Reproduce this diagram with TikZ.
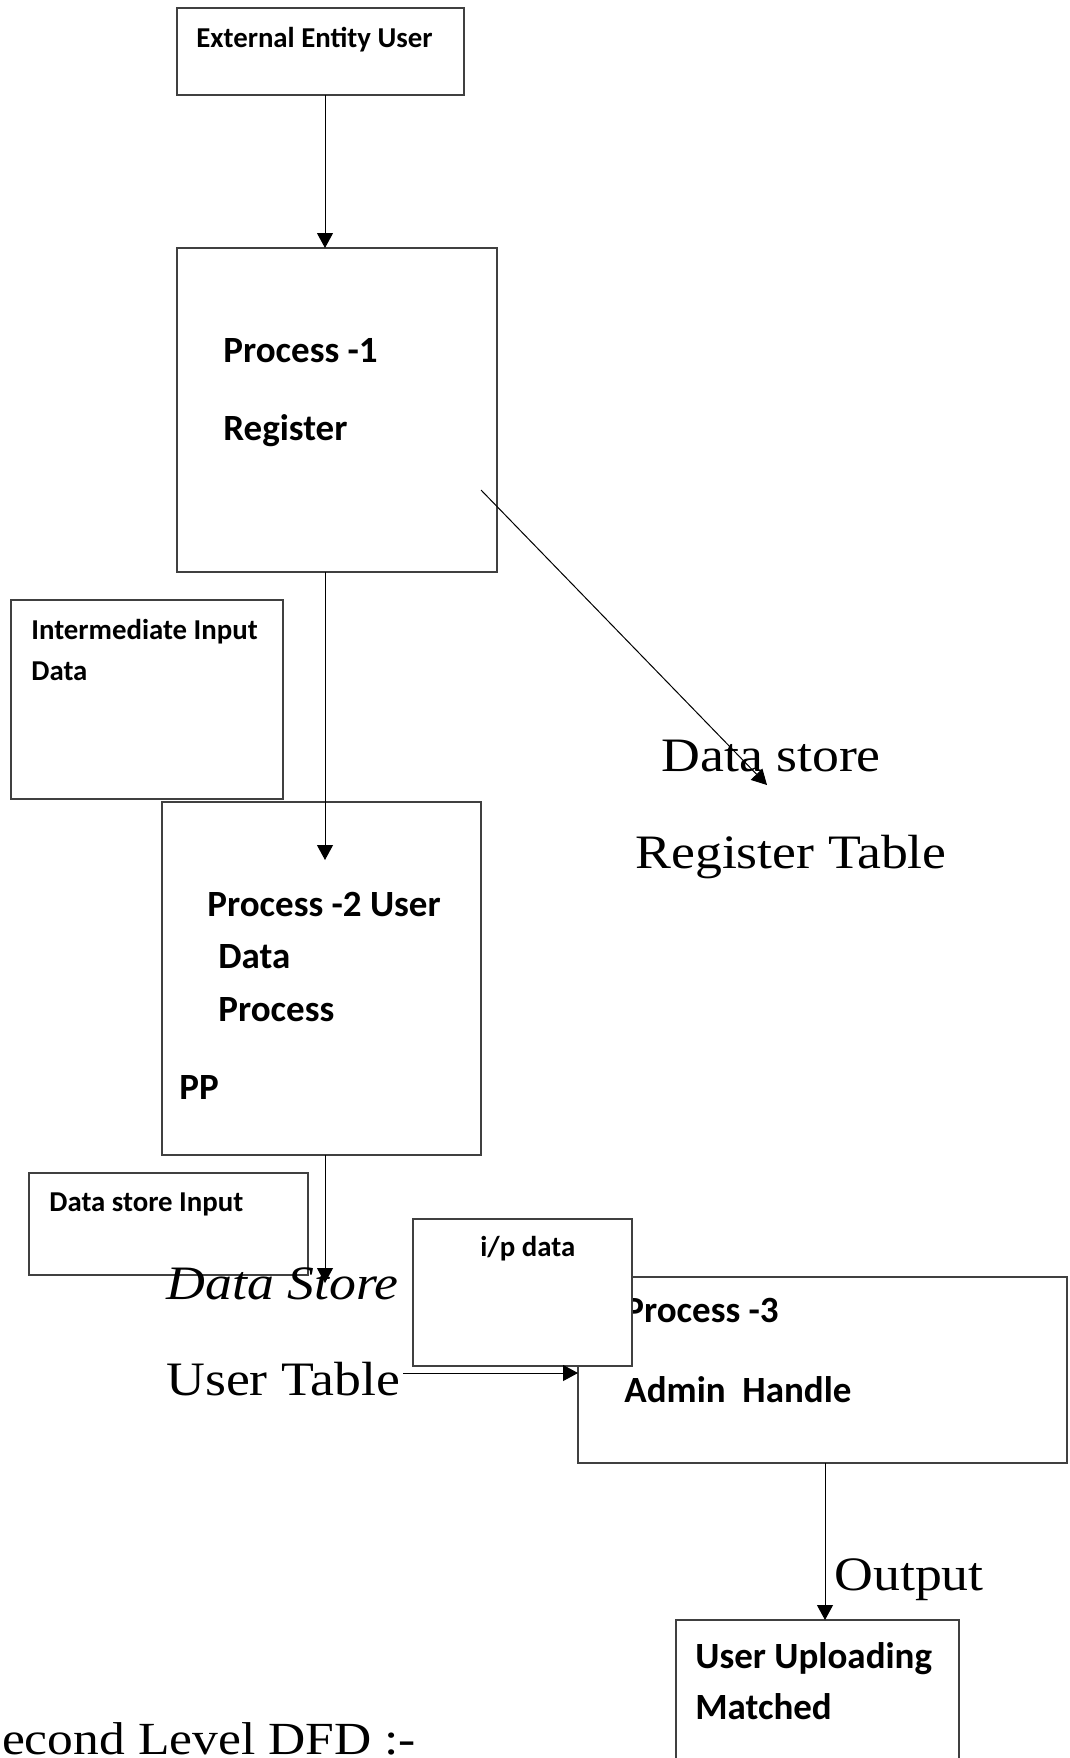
\documentclass[tikz,border=0pt]{standalone}
\usepackage{fontspec}
\setmainfont{Liberation Serif}
\newfontfamily\wideserif{Liberation Serif}[FakeStretch=1.12]
\newfontfamily\calibri{Carlito}
\usepackage{tikz}
\usetikzlibrary{arrows.meta}

\begin{document}
\begin{tikzpicture}[x=0.5pt,y=-0.5pt,
   box/.style={draw=black!75,fill=white,line width=0.7pt,anchor=north west,inner sep=0pt,outer sep=0pt},
   big/.style={anchor=base west,inner sep=0pt,font=\calibri\bfseries\fontsize{18.5}{22}\selectfont},
   small/.style={anchor=base west,inner sep=0pt,font=\calibri\bfseries\fontsize{14.4}{17}\selectfont},
   serif/.style={anchor=base west,inner sep=0pt,font=\wideserif\fontsize{24}{29}\selectfont},
   serifit/.style={serif,font=\wideserif\itshape\fontsize{24}{29}\selectfont}]

\tikzstyle {dataflow} = [-{Triangle[length=7.5pt,width=8pt]}, draw=black, line width=0.5pt];

\clip (0,0) rectangle (1070,1758);
\fill[white] (0,0) rectangle (1070,1758);

\node[box, minimum width=143.5pt, minimum height=43.5pt] (ext) at (177,8) {};
\node[small] (extlbl) at (196,47) {External Entity User};

\node[box, minimum width=160pt, minimum height=162pt] (p1) at (177,248) {};
\node[big] (p1a) at (223,362) {Process -1};
\node[big] (p1b) at (223,440) {Register};

\node[box, minimum width=136pt, minimum height=99.5pt] (inter) at (11,600) {};
\node[small] (intera) at (31,639) {Intermediate Input};
\node[small] (interb) at (31,680) {Data};

\node[box, minimum width=159.5pt, minimum height=176.5pt] (p2) at (162,802) {};
\node[big] (p2a) at (207,916) {Process -2 User};
\node[big] (p2b) at (218,968) {Data};
\node[big] (p2c) at (218,1021) {Process};
\node[big] (p2d) at (179,1099) {PP};

\node[serif] (regA) at (661,771) {Data store};
\node[serif] (regB) at (635,868) {Register Table};

\node[box, minimum width=139.5pt, minimum height=51pt] (dsin) at (29,1173) {};
\node[small] (dsinlbl) at (49,1211) {Data store Input};

\node[serifit] (usA) at (166,1299) {Data Store};
\node[serif] (usB) at (166,1395) {User Table};

\node[box, minimum width=244.5pt, minimum height=93pt] (p3) at (578,1277) {};
\node[big] (p3a) at (624,1322) {Process -3};
\node[big] (p3b) at (624,1402) {Admin\ \ Handle};

\node[box, minimum width=109.5pt, minimum height=73.5pt] (ipd) at (413,1219) {};
\node[small] (ipdlbl) at (480,1256) {i/p data};

\node[serif] (out) at (834,1590) {Output};

\node[box, minimum width=141.5pt, minimum height=90pt] (upl) at (676,1620) {};
\node[big] (upla) at (695,1668) {User Uploading};
\node[big] (uplb) at (695,1719) {Matched};

\node[anchor=base east, inner sep=0pt, font=\wideserif\fontsize{23}{28}\selectfont] (title) at (416,1754) {Second Level DFD :-};

\coordinate (fx) at (325,0);
\coordinate (p2in) at (325,860);
\coordinate (usin) at (325,1283);
\coordinate (p1out) at (481,490);
\coordinate (regin) at (767,785);
\coordinate (utout) at (403,1373);
\coordinate (ox) at (825,0);

%\draw [->] (p1) -- (p2);

\path (ext.south -| fx) edge [dataflow] (p1.north -| fx);
\path (p1.south -| fx) edge [dataflow] (p2in);
\path (p1out) edge [dataflow] (regin);
\path (p2.south -| fx) edge [dataflow] (usin);
\path (utout) edge [dataflow] (p3.west |- utout);
\path (p3.south -| ox) edge [dataflow] (upl.north -| ox);

\end{tikzpicture}
\end{document}
